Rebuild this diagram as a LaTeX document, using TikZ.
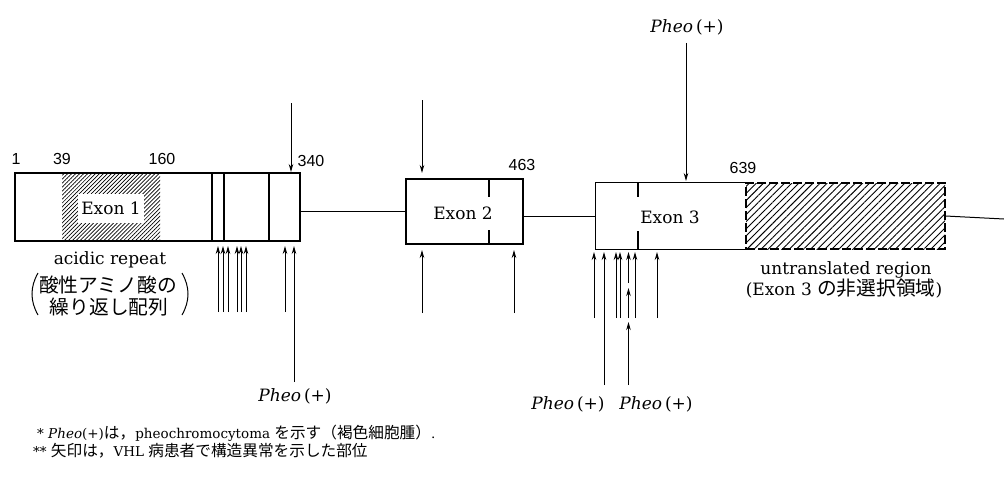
\documentclass[tikz,border=0pt]{standalone}
\usepackage{fontspec}
\setmainfont{DejaVu Serif}
\newfontfamily\jp[Scale=1.16]{Noto Sans CJK JP}
\newfontfamily\num{Liberation Sans}
\usetikzlibrary{arrows.meta,patterns.meta}
\begin{document}
\begin{tikzpicture}[x=1pt,y=-1pt,
  box/.style={line width=1.3pt,inner sep=0pt,rectangle},
  arr/.style={line width=0.9pt,-{Stealth[length=8pt,width=4.5pt]}},
  conn/.style={line width=1pt},
  tick/.style={line width=1.3pt},
  lbl/.style={font=\fontsize{17}{20}\selectfont,inner sep=0pt},
  jplbl/.style={font=\jp\fontsize{17}{20}\selectfont,inner sep=0pt},
  numlbl/.style={font=\num\fontsize{16}{18}\selectfont,inner sep=0pt},
  pheo/.style={font=\fontsize{17}{20}\selectfont,inner sep=0pt},
  note/.style={font=\fontsize{13.5}{16}\selectfont,inner sep=0pt,anchor=west},
  paren/.style={line width=1pt}]
\useasboundingbox[fill=white] (0,0) rectangle (1004,487);

% ---------- Exon 1 ----------
\fill[pattern={Lines[angle=45,distance=2.8pt,line width=0.7pt]}] (62,173) rectangle (160,241);
\node[box,draw,minimum width=285pt,minimum height=68pt] (e1) at (157.5,207) {};
\node[lbl,fill=white,inner xsep=3pt,minimum height=29pt] (e1t) at (111,208) {Exon 1};
\draw[tick] (212,173) -- (212,241);
\draw[tick] (224,173) -- (224,241);
\draw[tick] (269,173) -- (269,241);

% ---------- Exon 2 ----------
\node[box,draw,minimum width=117pt,minimum height=65pt] (e2) at (464.5,211.5) {};
\node[lbl] (e2t) at (463,213) {Exon 2};
\draw[tick] (489,179) -- (489,197);
\draw[tick] (489,230) -- (489,244);

% ---------- Exon 3 ----------
\node[box,minimum width=150pt,minimum height=66pt] (e3) at (671,216) {};
\node[lbl] (e3t) at (670,217) {Exon 3};
\draw[tick] (e3.north east) -- (e3.north west) -- (e3.south west) -- (e3.south east);
\draw[tick] (638,183) -- (638,197);
\draw[tick] (638,231) -- (638,249);

% ---------- untranslated region ----------
\node[box,draw,dash pattern=on 9pt off 3pt,
      pattern={Lines[angle=45,distance=5pt,line width=0.9pt]},
      minimum width=199pt,minimum height=66pt] (utr) at (845.5,216) {};

% ---------- connectors ----------
\coordinate (rend) at (1004,219);
\draw[conn] (e1.east |- e2.west) -- (e2.west);
\draw[conn] (e2.east |- e3.west) -- (e3.west);
\draw[conn] (utr.east) -- (rend);

% ---------- numbers ----------
\node[numlbl] (n1) at (16,159) {1};
\node[numlbl] (n39) at (62,159) {39};
\node[numlbl] (n160) at (162,159) {160};
\node[numlbl] (n340) at (311,161) {340};
\node[numlbl] (n463) at (522,165) {463};
\node[numlbl] (n639) at (743,168) {639};

% ---------- labels ----------
\node[lbl] (acid) at (110,260) {acidic repeat};
\node[jplbl] (acid1) at (108,285) {酸性アミノ酸の};
\node[jplbl] (acid2) at (109,307) {繰り返し配列};
\draw[paren] (38,273) .. controls (30,287) and (30,301) .. (38,315);
\draw[paren] (182,273) .. controls (190,287) and (190,301) .. (182,315);

\node[lbl] (utr1) at (846,270) {untranslated region};
\node[lbl] (utr2) at (844,289) {(Exon 3 {\jp の非選択領域})};

\node[pheo] (pT) at (687,27) {\textit{Pheo}\,(+)};
\node[pheo] (pB1) at (295,396) {\textit{Pheo}\,(+)};
\node[pheo] (pB2) at (568,404) {\textit{Pheo}\,(+)};
\node[pheo] (pB3) at (656,404) {\textit{Pheo}\,(+)};

% ---------- arrows from above ----------
\coordinate (a1s) at (291,103); \coordinate (a1e) at (291,172);
\coordinate (a2s) at (422,100); \coordinate (a2e) at (422,173);
\coordinate (a3s) at (686,43);  \coordinate (a3e) at (686,181);
\draw[arr] (a1s) -- (a1e);
\draw[arr] (a2s) -- (a2e);
\draw[arr] (a3s) -- (a3e);

% ---------- arrows from below, Exon 1 ----------
\foreach \x in {218,223,228,237,241,246,285} {
  \coordinate (b1s\x) at (\x,312); \coordinate (b1e\x) at (\x,246);
  \draw[arr] (b1s\x) -- (b1e\x);
}
\coordinate (b1sP) at (294,382); \coordinate (b1eP) at (294,246);
\draw[arr] (b1sP) -- (b1eP);

% ---------- arrows from below, Exon 2 ----------
\foreach \x in {422,514} {
  \coordinate (b2s\x) at (\x,313); \coordinate (b2e\x) at (\x,250);
  \draw[arr] (b2s\x) -- (b2e\x);
}

% ---------- arrows from below, Exon 3 ----------
\foreach \x in {594,616,620,635,657} {
  \coordinate (b3s\x) at (\x,318); \coordinate (b3e\x) at (\x,252);
  \draw[arr] (b3s\x) -- (b3e\x);
}
\coordinate (b3sP) at (604,385); \coordinate (b3eP) at (604,252);
\draw[arr] (b3sP) -- (b3eP);
\coordinate (c1s) at (628.5,283); \coordinate (c1e) at (628.5,252);
\coordinate (c2s) at (628.5,318); \coordinate (c2e) at (628.5,288);
\coordinate (c3s) at (628.5,385); \coordinate (c3e) at (628.5,322);
\draw[arr] (c1s) -- (c1e);
\draw[arr] (c2s) -- (c2e);
\draw[arr] (c3s) -- (c3e);

% ---------- footnotes ----------
\node[note] (f1) at (37,433) {* \textit{Pheo}(+){\jp は，}pheochromocytoma {\jp を示す（褐色細胞腫）}.};
\node[note] (f2) at (33,451) {** {\jp 矢印は，}VHL {\jp 病患者で構造異常を示した部位}};
\end{tikzpicture}
\end{document}
